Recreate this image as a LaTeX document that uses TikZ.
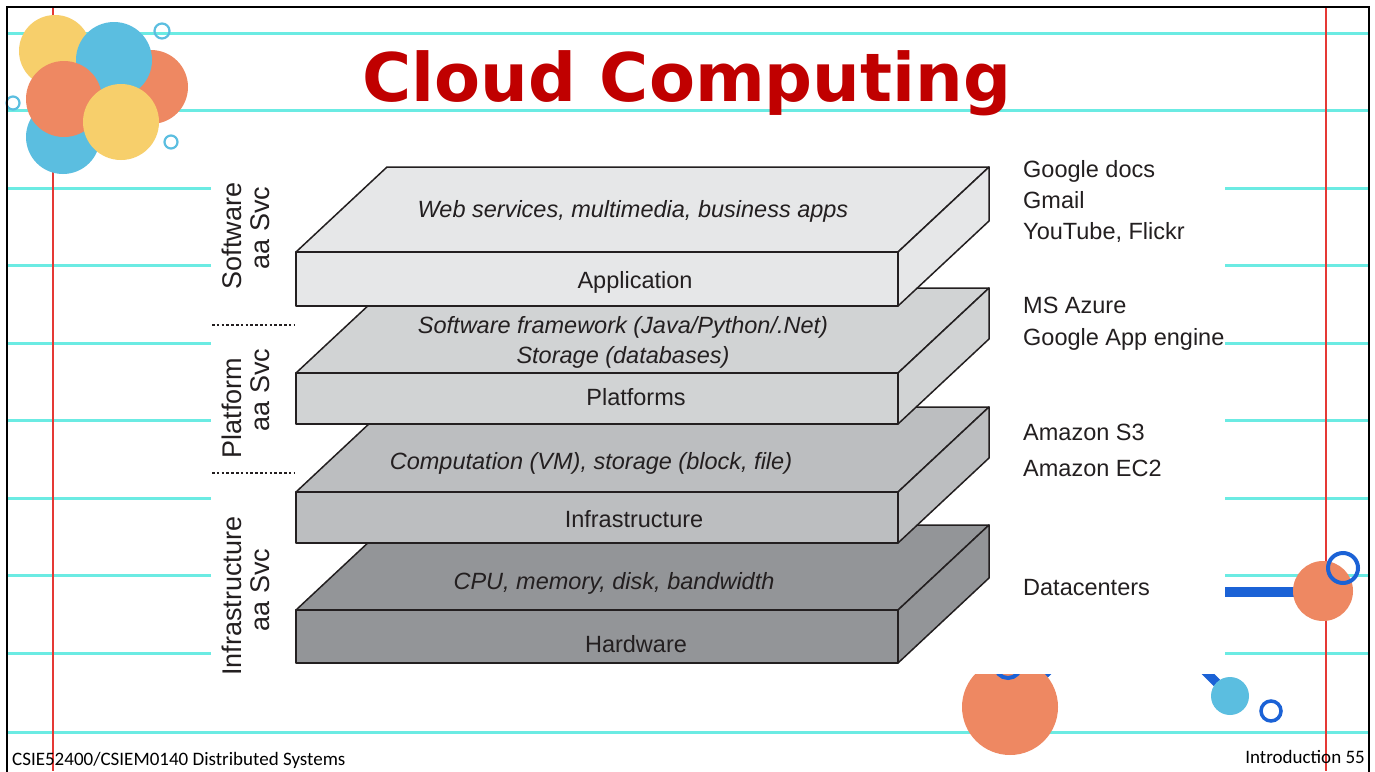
\documentclass[tikz,border=0pt]{standalone}
\usepackage{fontspec}
\setmainfont{Liberation Sans}
\newfontfamily\titlefont{DejaVu Sans}
\newfontfamily\footfont{Carlito}
\definecolor{ruleclr}{HTML}{6BEBE3}
\definecolor{marginclr}{HTML}{E53935}
\definecolor{dotyellow}{HTML}{F7CF6B}
\definecolor{dotblue}{HTML}{5BBEE0}
\definecolor{dotorange}{HTML}{EE8862}
\definecolor{deepblue}{HTML}{1B62D6}
\definecolor{titlered}{HTML}{C00000}
\definecolor{edgeclr}{HTML}{231F20}
\definecolor{slabA}{HTML}{E6E7E8}
\definecolor{slabB}{HTML}{D1D3D4}
\definecolor{slabC}{HTML}{BCBEC0}
\definecolor{slabD}{HTML}{939598}
\begin{document}
\begin{tikzpicture}[x=1pt,y=-1pt,
  ruled/.style={ruleclr,line width=3pt},
  marginline/.style={marginclr,line width=1.4pt},
  ring/.style={draw=dotblue,line width=2.2pt},
  bluering/.style={draw=deepblue,line width=4pt},
  slabface/.style={fill=#1,draw=edgeclr,line width=1.5pt,line join=round},
  toptext/.style={font=\fontsize{23.5}{26}\selectfont\itshape,anchor=base,text=edgeclr,inner sep=0},
  fronttext/.style={font=\fontsize{23.5}{26}\selectfont,anchor=base,text=edgeclr,inner sep=0},
  sidetext/.style={font=\fontsize{23.5}{26}\selectfont,anchor=base west,text=edgeclr,inner sep=0},
  svclabel/.style={font=\fontsize{27}{28}\selectfont,rotate=90,text=edgeclr,inner sep=0},
  layersep/.style={edgeclr,line width=2.8pt,dash pattern=on 2.6pt off 2.2pt},
  foot/.style={font=\footfont\fontsize{19}{20}\selectfont,inner sep=0}]
\useasboundingbox (0,0) rectangle (1375,771);
\clip (0,0) rectangle (1375,771);
\fill[white] (0,0) rectangle (1375,771);

% ruled notebook paper
\foreach \y in {33,110,188,265,343,420,498,575,653,732}
  \draw[ruled] (7,\y) -- (1369,\y);
\draw[marginline] (53,7) -- (53,771);
\draw[marginline] (1326,7) -- (1326,771);

% cluster of dots, top left
\fill[dotorange] (151,87) circle (37);
\fill[dotyellow] (55,51) circle (36);
\fill[dotblue] (114,60) circle (38);
\fill[dotblue] (63,137) circle (37);
\fill[dotorange] (64,99) circle (38);
\fill[dotyellow] (121,122) circle (38);
\draw[ring] (162,31) circle (7.5);
\draw[ring] (13,103) circle (6.5);
\draw[ring] (171,142) circle (6.5);

% bottom right decorations
\draw[deepblue,line width=10pt] (1150,592) -- (1320,592);
\fill[dotorange] (1323,591) circle (30);
\draw[bluering] (1343,568) circle (15);
\draw[deepblue,line width=9pt] (1085,636) -- (1010,707);
\fill[dotorange] (1010,707) circle (48);
\draw[bluering] (1008,665) circle (13);
\draw[deepblue,line width=9pt] (1185,651) -- (1230,696);
\fill[dotblue] (1230,696) circle (19);
\draw[bluering,line width=3.5pt] (1271,711) circle (10);

% white panel behind the diagram
\fill[white] (211,140) rectangle (1225,674);

% frame
\draw[black,line width=2.6pt] (7,7) rectangle (1369,800);

% title
\node[font=\titlefont\bfseries\fontsize{67}{70}\selectfont,text=titlered,anchor=base,inner sep=0] (title) at (687,101) {Cloud Computing};

% layered slabs, bottom to top
\foreach \ft/\fb/\clr in {610/663/slabD, 492/543/slabC, 373/424/slabB, 252/306/slabA}{
  \filldraw[slabface=\clr] (296,\ft) -- (387,\ft-85) -- (989,\ft-85) -- (898,\ft) -- cycle;
  \filldraw[slabface=\clr] (898,\ft) -- (989,\ft-85) -- (989,\fb-85) -- (898,\fb) -- cycle;
  \filldraw[slabface=\clr] (296,\ft) rectangle (898,\fb);
}

% slab texts
\node[toptext] (saastop) at (633,217) {Web services, multimedia, business apps};
\node[fronttext] (app) at (635,288) {Application};
\node[toptext] (paastop1) at (623,333) {Software framework (Java/Python/.Net)};
\node[toptext] (paastop2) at (623,363) {Storage (databases)};
\node[fronttext] (plat) at (636,405) {Platforms};
\node[toptext] (iaastop) at (591,469) {Computation (VM), storage (block, file)};
\node[fronttext] (infra) at (634,527) {Infrastructure};
\node[toptext] (hwtop) at (614,589) {CPU, memory, disk, bandwidth};
\node[fronttext] (hw) at (636,652) {Hardware};

% service model labels
\node[svclabel] (saas1) at (232,236) {Software};
\node[svclabel] (saas2) at (260,228) {aa Svc};
\node[svclabel] (paas1) at (232,408) {Platform};
\node[svclabel] (paas2) at (260,390) {aa Svc};
\node[svclabel] (iaas1) at (232,596) {Infrastructure};
\node[svclabel] (iaas2) at (260,590) {aa Svc};
\coordinate (sepA) at (212,325);
\coordinate (sepAe) at (295,325);
\coordinate (sepB) at (212,473);
\coordinate (sepBe) at (295,473);
\draw[layersep] (sepA) -- (sepAe);
\draw[layersep] (sepB) -- (sepBe);

% example providers
\node[sidetext] (ex1) at (1023,177) {Google docs};
\node[sidetext] (ex2) at (1023,208) {Gmail};
\node[sidetext] (ex3) at (1023,239) {YouTube, Flickr};
\node[sidetext] (ex4) at (1023,313) {MS Azure};
\node[sidetext] (ex5) at (1023,345) {Google App engine};
\node[sidetext] (ex6) at (1023,440) {Amazon S3};
\node[sidetext] (ex7) at (1023,476) {Amazon EC2};
\node[sidetext] (ex8) at (1023,595) {Datacenters};

% footer
\node[foot,anchor=base west] (course) at (12,765) {CSIE52400/CSIEM0140 Distributed Systems};
\node[foot,anchor=base east] (page) at (1365,763) {Introduction 55};
\end{tikzpicture}
\end{document}
